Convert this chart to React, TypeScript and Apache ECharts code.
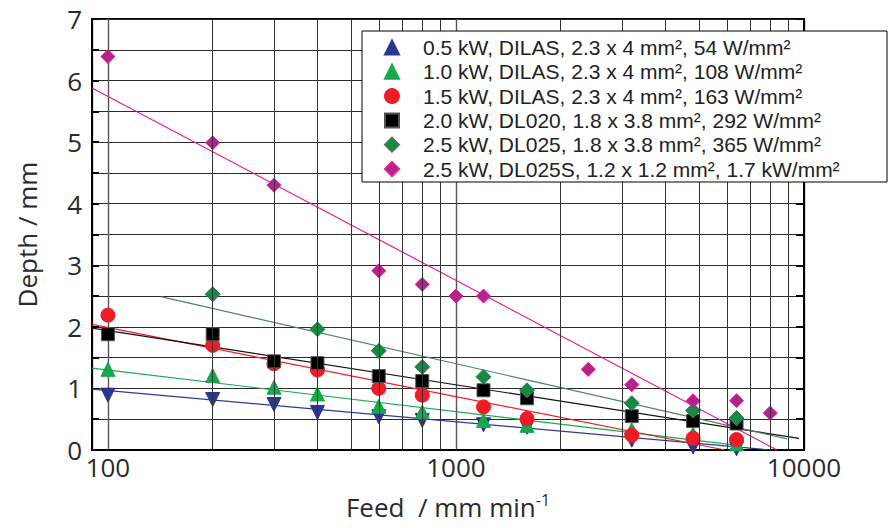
import React, { useEffect, useRef } from "react";
import * as echarts from "echarts";

// ---- data ----
const feedStd = [100, 200, 300, 400, 600, 800, 1200, 1600, 3200, 4800, 6400];
const depth05 = [0.89, 0.82, 0.74, 0.61, 0.54, 0.48, 0.41, 0.37, 0.16, 0.05, 0.02];
const depth10 = [1.31, 1.21, 1.02, 0.91, 0.71, 0.62, 0.48, 0.4, 0.33, 0.26, 0.1];
const depth15 = [2.19, 1.7, 1.4, 1.3, 1.0, 0.89, 0.7, 0.51, 0.24, 0.19, 0.17];
const depth20 = [1.88, 1.88, 1.44, 1.41, 1.2, 1.12, 0.97, 0.84, 0.55, 0.47, 0.43];
const feed25 = [200, 400, 600, 800, 1200, 1600, 3200, 4800, 6400];
const depth25 = [2.53, 1.96, 1.61, 1.35, 1.19, 0.97, 0.76, 0.64, 0.52];
const feed25S = [100, 200, 300, 600, 800, 1000, 1200, 2400, 3200, 4800, 6400, 8000];
const depth25S = [6.39, 4.99, 4.3, 2.91, 2.69, 2.5, 2.5, 1.31, 1.06, 0.8, 0.8, 0.6];

// fitted lines: [feed, depth] end points
const fit05 = [[90, 0.99], [7980, 0]];
const fit10 = [[90, 1.33], [6550, 0.07]];
const fit15 = [[90, 2.04], [5930, 0]];
const fit20 = [[90, 1.98], [9680, 0.19]];
const fit25 = [[142, 2.49], [8935, 0.18]];
const fit25S = [[90, 5.88], [8360, 0]];

const legendNames = [
  "0.5 kW, DILAS, 2.3 x 4 mm², 54 W/mm²",
  "1.0 kW, DILAS, 2.3 x 4 mm², 108 W/mm²",
  "1.5 kW, DILAS, 2.3 x 4 mm², 163 W/mm²",
  "2.0 kW, DL020, 1.8 x 3.8 mm², 292 W/mm²",
  "2.5 kW, DL025, 1.8 x 3.8 mm², 365 W/mm²",
  "2.5 kW, DL025S, 1.2 x 1.2 mm², 1.7 kW/mm²",
];

const majorFeedTicks = [100, 1000, 10000];
const minorGridFeeds = [200, 300, 400, 500, 600, 700, 800, 900, 2000, 3000, 4000, 5000, 6000, 7000, 8000, 9000];

const zip = (xs: number[], ys: number[]) => xs.map((x, i) => [x, ys[i]]);

const FONT = "'Open Sans', 'Noto Sans', sans-serif";
const LEGEND_FONT = "'Liberation Sans', Arial, sans-serif";

export default function App() {
  const ref = useRef<HTMLDivElement>(null);
  useEffect(() => {
    if (!ref.current) return;
    const chart = echarts.init(ref.current, null, { renderer: "svg" });

    const scatterDefs = [
      { data: zip(feedStd, depth05), symbol: "triangle", rotate: 180, size: 14, color: "#2b3592", border: "#2b3592" },
      { data: zip(feedStd, depth10), symbol: "triangle", rotate: 0, size: 14, color: "#17a84b", border: "#17a84b" },
      { data: zip(feedStd, depth15), symbol: "circle", rotate: 0, size: 14, color: "#ee1c25", border: "#ee1c25" },
      { data: zip(feedStd, depth20), symbol: "rect", rotate: 0, size: 13, color: "#000000", border: "#555555" },
      { data: zip(feed25, depth25), symbol: "diamond", rotate: 0, size: 15, color: "#158a45", border: "#3d7d55" },
      { data: zip(feed25S, depth25S), symbol: "diamond", rotate: 0, size: 14, color: "#b3238f", border: "#ec198c" },
    ];
    const fitDefs = [
      { data: fit05, color: "#2b3a9a" },
      { data: fit10, color: "#1aaa50" },
      { data: fit15, color: "#ee1c25" },
      { data: fit20, color: "#111111" },
      { data: fit25, color: "#4a8462" },
      { data: fit25S, color: "#f2178f" },
    ];

    const series: any[] = [
      {
        type: "line",
        name: "minorGrid",
        data: [],
        z: 1,
        silent: true,
        markLine: {
          silent: true,
          symbol: ["none", "none"],
          label: { show: false },
          lineStyle: { color: "#333333", width: 1, type: "solid" },
          data: minorGridFeeds.map((v) => ({ xAxis: v })),
        },
      },
    ];
    fitDefs.forEach((f, i) => {
      series.push({
        type: "line",
        name: "fit" + i,
        data: f.data,
        showSymbol: false,
        symbol: "none",
        lineStyle: { color: f.color, width: 1.2 },
        z: 3,
        silent: true,
      });
    });
    scatterDefs.forEach((s, i) => {
      series.push({
        type: "scatter",
        name: legendNames[i],
        data: s.data,
        symbol: s.symbol,
        symbolRotate: s.rotate,
        symbolSize: s.size,
        itemStyle: { color: s.color, borderColor: s.border, borderWidth: 1, opacity: 1 },
        z: 4,
      });
    });

    chart.setOption({
      animation: false,
      backgroundColor: "#ffffff",
      textStyle: { fontFamily: FONT },
      grid: {
        left: 92,
        right: 86,
        top: 19,
        bottom: 78,
        show: true,
        borderColor: "#000",
        borderWidth: 2,
        containLabel: false,
        outerBoundsMode: "none",
      },
      xAxis: {
        type: "log",
        logBase: 10,
        min: 90,
        max: 10000,
        name: "Feed  / mm min{sup|-1}",
        nameLocation: "middle",
        nameGap: 42,
        nameTextStyle: {
          fontFamily: FONT,
          fontSize: 26,
          color: "#2a2a2a",
          rich: {
            sup: { fontFamily: FONT, fontSize: 16, color: "#2a2a2a", verticalAlign: "top", padding: [0, 0, 14, 0] },
          },
        },
        axisLine: { show: true, lineStyle: { color: "#000", width: 2 } },
        axisTick: { show: false },
        axisLabel: {
          fontFamily: FONT,
          fontSize: 26,
          color: "#2a2a2a",
          margin: 4,
          formatter: (v: number) => (majorFeedTicks.some((t) => Math.abs(t - v) < 1e-6 * t) ? String(Math.round(v)) : ""),
        },
        splitLine: { show: true, lineStyle: { color: "#555", width: 1.4 } },
      },
      yAxis: [
        {
          type: "value",
          min: 0,
          max: 7,
          interval: 0.5,
          name: "Depth / mm",
          nameLocation: "middle",
          nameGap: 52,
          nameTextStyle: { fontFamily: FONT, fontSize: 26, color: "#2a2a2a" },
          axisLine: { show: true, lineStyle: { color: "#000", width: 2 } },
          axisTick: { show: true, inside: true, length: 7, lineStyle: { color: "#000", width: 2 } },
          axisLabel: {
            fontFamily: FONT,
            fontSize: 26,
            color: "#2a2a2a",
            margin: 10,
            formatter: (v: number) => (Math.abs(v - Math.round(v)) < 1e-6 ? String(Math.round(v)) : ""),
          },
          splitLine: { show: true, lineStyle: { color: "#2a2a2a", width: 1 } },
        },
        {
          type: "value",
          position: "right",
          min: 0,
          max: 7,
          interval: 0.5,
          axisLine: { show: true, lineStyle: { color: "#000", width: 2 } },
          axisTick: { show: true, inside: true, length: 8, lineStyle: { color: "#000", width: 2 } },
          axisLabel: { show: false },
          splitLine: { show: false },
        },
      ],
      legend: {
        data: legendNames,
        orient: "vertical",
        left: 384,
        top: 37,
        padding: 0,
        itemWidth: 14,
        itemHeight: 14,
        itemGap: 3.3,
        symbolKeepAspect: true,
        z: 10,
        textStyle: { fontFamily: LEGEND_FONT, fontSize: 21, color: "#222", lineHeight: 21, padding: [0, 0, 0, 19] },
        selectedMode: false,
      },
      graphic: [
        {
          type: "rect",
          z: 8,
          shape: { x: 362, y: 31, width: 525, height: 151 },
          style: { fill: "#fff", stroke: "#000", lineWidth: 1 },
        },
      ],
      series,
    });

    return () => chart.dispose();
  }, []);
  return <div ref={ref} style={{ width: 890, height: 528, position: "absolute", left: 0, top: 0 }} />;
}
